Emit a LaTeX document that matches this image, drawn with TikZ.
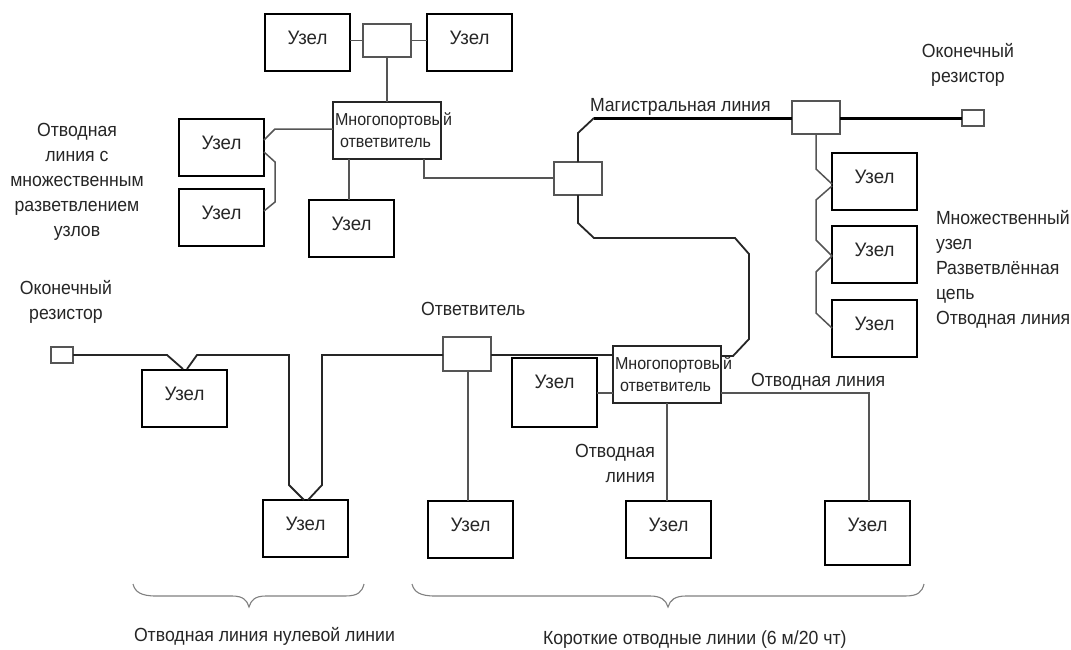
\documentclass[tikz,border=0pt]{standalone}
\usepackage{fontspec}
\setmainfont[FakeStretch=0.93]{Liberation Sans}
\newfontfamily\nodefont[FakeStretch=0.957]{Liberation Sans}
\definecolor{ink}{HTML}{262626}
\definecolor{wire}{HTML}{555555}
\tikzset{
  nodebox/.style={draw=black,line width=2.2pt,fill=white,anchor=north west,minimum width=85pt,minimum height=57pt,inner sep=0pt,outer sep=0pt,text=ink,font=\nodefont\fontsize{19.5}{21}\selectfont,text height=14pt,text depth=11pt},
  coupler/.style={draw=wire,line width=1.4pt,fill=white,anchor=north west,minimum width=48pt,minimum height=33pt,inner sep=0pt,outer sep=0pt},
  multiport/.style={draw=ink,line width=1.4pt,fill=white,anchor=north west,minimum width=108pt,minimum height=57pt,inner sep=0pt,outer sep=0pt,text width=108pt,align=left,text=ink,font=\fontsize{17.3}{22}\selectfont},
  termin/.style={draw=wire,line width=1.3pt,fill=white,anchor=north west,minimum width=22pt,minimum height=16pt,inner sep=0pt,outer sep=0pt},
  wirethin/.style={draw=wire,line width=1.5pt},
  wirebus/.style={draw=black,line width=3pt},
  wiremid/.style={draw=ink,line width=1.8pt},
  bracket/.style={draw=gray,line width=1.1pt},
  caption/.style={inner sep=0pt,outer sep=0pt,text=ink,font=\fontsize{19}{25}\selectfont},
  capleft/.style={caption,anchor=north west,align=left},
  capmid/.style={caption,anchor=north,align=center},
  capright/.style={caption,anchor=north east,align=right}
}
\begin{document}
\begin{tikzpicture}[x=1pt,y=-1pt]
\useasboundingbox[fill=white] (0,0) rectangle (1071,649);
\node[nodebox] (n1) at (265,14) {Узел};
\node[nodebox] (n2) at (427,14) {Узел};
\node[coupler] (c1) at (363,24) {};
\node[multiport] (m1) at (333,102) {\hspace*{2pt}Многопортовый\\\hspace*{7pt}ответвитель};
\node[nodebox] (n3) at (179,119) {Узел};
\node[nodebox] (n4) at (179,189) {Узел};
\node[nodebox] (n5) at (309,200) {Узел};
\node[coupler] (c2) at (554,162) {};
\node[coupler] (c3) at (792,101) {};
\node[termin] (r1) at (962,110) {};
\node[nodebox] (n6) at (832,153) {Узел};
\node[nodebox] (n7) at (832,226) {Узел};
\node[nodebox] (n8) at (832,300) {Узел};
\node[termin] (r2) at (51,347) {};
\node[coupler,minimum height=34pt] (c4) at (443,337) {};
\node[nodebox] (n9) at (142,370) {Узел};
\node[nodebox] (n10) at (263,500) {Узел};
\node[nodebox] (n11) at (428,501) {Узел};
\node[nodebox,minimum height=69pt,text depth=23pt] (n12) at (512,358) {Узел};
\node[multiport] (m2) at (613,346) {\hspace*{2pt}Многопортовый\\\hspace*{7pt}ответвитель};
\node[nodebox] (n13) at (626,501) {Узел};
\node[nodebox,minimum height=64pt,text depth=18pt] (n14) at (825,501) {Узел};
% connectors
\draw[wirethin] (n1.east |- c1.west) -- (c1.west);
\draw[wirethin] (c1.east) -- (c1.east -| n2.west);
\draw[wirethin] (c1.south) -- (c1.south |- m1.north);
\draw[wirethin] (m1.west |- 0,129) -- (275,129) -- (n3.east |- 0,140);
\draw[wirethin] (n3.east |- 0,152) -- (275,162) -- (275,202) -- (n4.east |- 0,211);
\draw[wirethin] (n5.north -| 349,0) -- (m1.south -| 349,0);
\draw[wirethin] (m1.south -| 424,0) -- (424,178) -- (c2.west |- 0,178);
\draw[wiremid] (c2.north -| 578,0) -- (578,133) -- (594,118);
\draw[wirebus] (594,118) -- (c3.west |- 0,118);
\draw[wirebus] (c3.east |- 0,118) -- (r1.west |- 0,118);
\draw[wiremid] (c2.south -| 578,0) -- (578,223) -- (594,238) -- (735,238) -- (749,254) -- (749,339) -- (733,356) -- (m2.east |- 0,356);
\draw[wirethin] (c3.south -| 816,0) -- (816,169) -- (n6.west |- 0,184);
\draw[wirethin] (n6.west |- 0,186) -- (816,200) -- (816,240) -- (n7.west |- 0,256);
\draw[wirethin] (n7.west |- 0,256) -- (816,272) -- (816,313) -- (n8.west |- 0,328);
\draw[wiremid] (r2.east |- 0,355) -- (167,355) -- (183,369);
\draw[wiremid] (187,369) -- (197,355) -- (289,355) -- (289,485) -- (304,500);
\draw[wiremid] (308,500) -- (322,485) -- (322,355) -- (c4.west |- 0,355);
\draw[wirethin] (c4.south -| 468,0) -- (n11.north -| 468,0);
\draw[wiremid] (c4.east |- 0,355) -- (m2.west |- 0,355);
\draw[wirethin] (n12.east |- 0,393) -- (m2.west |- 0,393);
\draw[wirethin] (m2.south -| 667,0) -- (n13.north -| 667,0);
\draw[wirethin] (m2.east |- 0,393) -- (869,393) -- (n14.north -| 869,0);
% braces
\draw[bracket] (133,584) .. controls (135,592) and (141,596) .. (156,596) -- (232,596) .. controls (243,596) and (247,600) .. (249,607) .. controls (251,600) and (255,596) .. (266,596) -- (345,596) .. controls (358,596) and (362,592) .. (364,584);
\draw[bracket] (412,584) .. controls (414,592) and (420,596) .. (435,596) -- (650,596) .. controls (661,596) and (666,600) .. (668,607) .. controls (670,600) and (675,596) .. (686,596) -- (905,596) .. controls (918,596) and (922,592) .. (924,584);
% captions
\node[capmid] (t1) at (77,123) {Отводная\\линия с\\множественным\\разветвлением\\узлов};
\node[capmid] (t2) at (66,280) {Оконечный\\резистор};
\node[capmid] (t3) at (968,43) {Оконечный\\резистор};
\node[capleft] (t4) at (590,98) {Магистральная линия};
\node[capleft] (t5) at (936,210) {Множественный\\узел\\Разветвлённая\\цепь\\Отводная линия};
\node[capleft] (t6) at (421,302) {Ответвитель};
\node[capleft] (t7) at (751,373) {Отводная линия};
\node[capright] (t8) at (655,444) {Отводная\\линия};
\node[capleft] (t9) at (134,627) {Отводная линия нулевой линии};
\node[capleft] (t10) at (543,631) {Короткие отводные линии (6 м/20 чт)};
\end{tikzpicture}
\end{document}
